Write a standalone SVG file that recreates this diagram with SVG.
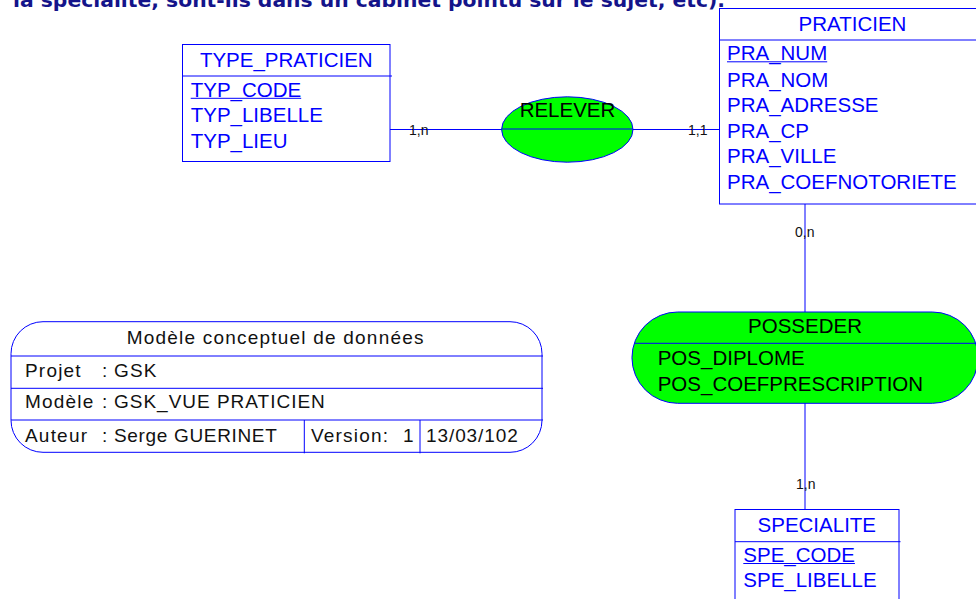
<svg xmlns="http://www.w3.org/2000/svg" width="976" height="599" viewBox="0 0 976 599">
<style>
.ln{stroke:#0000ff;stroke-width:1;fill:none}
.ent{fill:#ffffff;stroke:#0000ff;stroke-width:1}
.rel{fill:#00ff00;stroke:#0000ff;stroke-width:1}
.et{font-family:"Liberation Sans",Arial,sans-serif;font-size:20.5px;fill:#0000ff}
.rt{font-family:"Liberation Sans",Arial,sans-serif;font-size:20.5px;fill:#000000}
.card{font-family:"Liberation Sans",Arial,sans-serif;font-size:14px;fill:#111111}
.mt{font-family:"Liberation Sans",Arial,sans-serif;font-size:19px;fill:#111111;letter-spacing:1.2px}
.mid{text-anchor:middle}
.top{font-family:"DejaVu Sans",Verdana,sans-serif;font-size:20px;font-weight:bold;fill:#14148a}
</style>
<rect x="0" y="0" width="976" height="599" fill="#ffffff"/>
<text class="top" x="13" y="6.5" textLength="712" lengthAdjust="spacingAndGlyphs">la spécialité, sont-ils dans un cabinet pointu sur le sujet, etc).</text>
<g id="connectors">
<line class="ln" x1="390" y1="129.5" x2="719.5" y2="129.5"/>
<line class="ln" x1="805" y1="204" x2="805" y2="312"/>
<line class="ln" x1="805" y1="403" x2="805" y2="509.5"/>
<text class="card" x="409" y="134.5">1,n</text>
<text class="card" x="688" y="135">1,1</text>
<text class="card" x="795" y="237">0,n</text>
<text class="card" x="796" y="489.3">1,n</text>
</g>
<g id="type_praticien">
<rect class="ent" x="182.5" y="44.5" width="207.5" height="117"/>
<line class="ln" x1="182.5" y1="76" x2="392" y2="76"/>
<text class="et mid" x="286.3" y="66.7">TYPE_PRATICIEN</text>
<text class="et" x="190.7" y="96.7">TYP_CODE</text>
<line class="ln" x1="190.7" y1="98.3" x2="301.2" y2="98.3"/>
<text class="et" x="190.7" y="122.3">TYP_LIBELLE</text>
<text class="et" x="190.7" y="148.3">TYP_LIEU</text>
</g>
<g id="relever">
<ellipse class="rel" cx="567.3" cy="129.5" rx="65.7" ry="32.7"/>
<line class="ln" x1="501.6" y1="129" x2="633" y2="129"/>
<text class="rt mid" x="567.5" y="117">RELEVER</text>
</g>
<g id="praticien">
<rect class="ent" x="719.5" y="8.5" width="270" height="195.5"/>
<line class="ln" x1="719.5" y1="40" x2="989.5" y2="40"/>
<text class="et mid" x="852.5" y="30.7">PRATICIEN</text>
<text class="et" x="727" y="60">PRA_NUM</text>
<line class="ln" x1="727" y1="61.8" x2="827.2" y2="61.8"/>
<text class="et" x="727" y="86.7">PRA_NOM</text>
<text class="et" x="727" y="111.7">PRA_ADRESSE</text>
<text class="et" x="727" y="137.7">PRA_CP</text>
<text class="et" x="727" y="163.3">PRA_VILLE</text>
<text class="et" x="727" y="189.3">PRA_COEFNOTORIETE</text>
</g>
<g id="posseder">
<path class="rel" d="M677.6,312 H932.4 A45.6,45.6 0 0 1 932.4,403.3 H677.6 A45.6,45.6 0 0 1 677.6,312 Z"/>
<line class="ln" x1="634" y1="343.3" x2="976" y2="343.3"/>
<text class="rt mid" x="805" y="333.3">POSSEDER</text>
<text class="rt" x="657.7" y="365">POS_DIPLOME</text>
<text class="rt" x="657.7" y="391">POS_COEFPRESCRIPTION</text>
</g>
<g id="specialite">
<rect class="ent" x="735" y="509.5" width="164" height="100"/>
<line class="ln" x1="735" y1="541.7" x2="900.5" y2="541.7"/>
<text class="et mid" x="816.8" y="531.7">SPECIALITE</text>
<text class="et" x="743.3" y="561.7">SPE_CODE</text>
<line class="ln" x1="743.3" y1="563.5" x2="854.9" y2="563.5"/>
<text class="et" x="743.3" y="587.3">SPE_LIBELLE</text>
</g>
<g id="model_info">
<path class="ln" d="M43,321.7 H510 A32,32 0 0 1 542,353.7 V420.3 A32,32 0 0 1 510,452.3 H43 A32,32 0 0 1 11,420.3 V353.7 A32,32 0 0 1 43,321.7 Z"/>
<line class="ln" x1="11" y1="356" x2="543" y2="356"/>
<line class="ln" x1="11" y1="388.3" x2="543" y2="388.3"/>
<line class="ln" x1="11" y1="420" x2="543" y2="420"/>
<line class="ln" x1="304.3" y1="420" x2="304.3" y2="453.3"/>
<line class="ln" x1="420" y1="420" x2="420" y2="453.3"/>
<text class="mt" x="126.7" y="344" textLength="298">Modèle conceptuel de données</text>
<text class="mt" x="25" y="376.7">Projet</text>
<text class="mt" x="102" y="376.7">:</text>
<text class="mt" x="114" y="376.7">GSK</text>
<text class="mt" x="25" y="408.3">Modèle</text>
<text class="mt" x="102" y="408.3">:</text>
<text class="mt" x="114" y="408.3" textLength="212">GSK_VUE PRATICIEN</text>
<text class="mt" x="25" y="441.7">Auteur</text>
<text class="mt" x="102" y="441.7">:</text>
<text class="mt" x="114" y="441.7" textLength="164">Serge GUERINET</text>
<text class="mt" x="311" y="441.7">Version:</text>
<text class="mt" x="403" y="441.7">1</text>
<text class="mt" x="426" y="441.7" textLength="93">13/03/102</text>
</g>
</svg>
